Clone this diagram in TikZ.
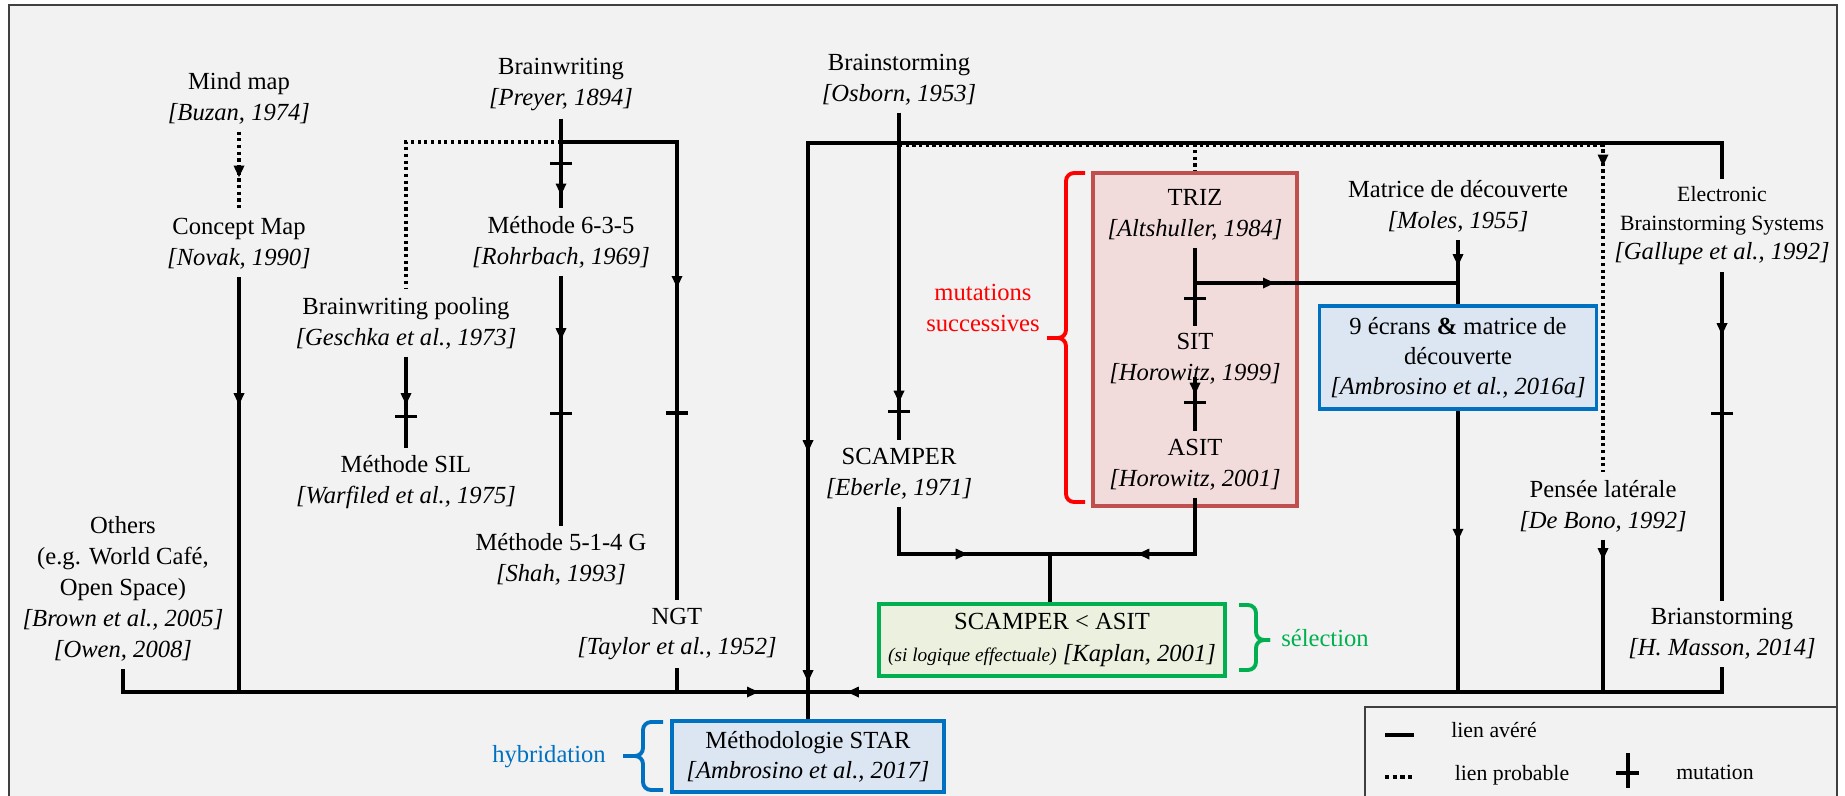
\documentclass[tikz,border=0pt]{standalone}
\usepackage{fontspec}
\setmainfont{Liberation Serif}
\usetikzlibrary{arrows.meta,decorations.markings}
\definecolor{bg}{HTML}{F2F2F2}
\definecolor{redfill}{HTML}{F2DCDB}
\definecolor{redline}{HTML}{C0504D}
\definecolor{greenfill}{HTML}{EBF1DE}
\definecolor{greenline}{HTML}{00B050}
\definecolor{bluefill}{HTML}{DCE6F2}
\definecolor{blueline}{HTML}{0070C0}
\definecolor{bracered}{HTML}{FF0000}
\definecolor{framegray}{HTML}{404040}
\begin{document}
\begin{tikzpicture}[x=0.1mm,y=-0.1mm,
  txt/.style={align=center, inner sep=2pt, font=\fontsize{7}{8.8}\selectfont},
  link/.style={line width=0.9pt},
  prob/.style={line width=0.9pt, densely dotted},
  arrowat/.style={postaction={decorate,decoration={markings,mark=at position #1 with {\arrow{Triangle[length=1.2mm,width=1mm]}}}}},
  tickat/.style={postaction={decorate,decoration={markings,mark=at position #1 with {\draw[solid,line width=0.9pt] (0,-11) -- (0,11);}}}},
  colbox/.style={line width=1pt, align=center, inner sep=0pt},
  bracepath/.style={line width=1.1pt, rounded corners=0.8mm}
]
\useasboundingbox (0,0) rectangle (1845,795);
\fill[white] (0,0) rectangle (1845,795);
\draw[framegray, fill=bg, line width=0.8pt] (9,5) rectangle (1837,815);

% coloured boxes
\node[colbox, draw=redline, fill=redfill, minimum width=20.4mm, minimum height=33.3mm] (redbox) at (1195,339.5) {};
\node[colbox, draw=blueline, fill=bluefill, minimum width=27.7mm, minimum height=10.3mm, font=\fontsize{7}{8.5}\selectfont] (ecran) at (1458,357.5) {9 écrans \textbf{\&} matrice de\\découverte\\\textit{[Ambrosino et al., 2016a]}};
\node[colbox, draw=greenline, fill=greenfill, minimum width=34.6mm, minimum height=7.2mm, font=\fontsize{7}{9.1}\selectfont] (kaplan) at (1052,640) {SCAMPER < ASIT\\{\fontsize{5.5}{6}\selectfont\textit{(si logique effectuale)}} \textit{[Kaplan, 2001]}};
\node[colbox, draw=blueline, fill=bluefill, minimum width=27.2mm, minimum height=7.1mm, font=\fontsize{7}{8.5}\selectfont] (star) at (808,756.5) {Méthodologie STAR\\\textit{[Ambrosino et al., 2017]}};

% text nodes
\node[txt] (mindmap) at (239,98) {Mind map\\\textit{[Buzan, 1974]}};
\node[txt] (concept) at (239,244) {Concept Map\\\textit{[Novak, 1990]}};
\node[txt] (bw) at (561,84.5) {Brainwriting\\\textit{[Preyer, 1894]}};
\node[txt] (m635) at (561,242) {Méthode 6-3-5\\\textit{[Rohrbach, 1969]}};
\node[txt] (bwp) at (406,323) {Brainwriting pooling\\\textit{[Geschka et al., 1973]}};
\node[txt] (sil) at (406,482.5) {Méthode SIL\\\textit{[Warfiled et al., 1975]}};
\node[txt] (m514) at (561,559.5) {Méthode 5-1-4 G\\\textit{[Shah, 1993]}};
\node[txt] (ngt) at (677,634) {NGT\\\textit{[Taylor et al., 1952]}};
\node[txt] (others) at (123,589) {Others\\(e.g. World Café,\\Open Space)\\\textit{[Brown et al., 2005]}\\\textit{[Owen, 2008]}};
\node[txt] (bs) at (899,79.5) {Brainstorming\\\textit{[Osborn, 1953]}};
\node[txt] (scamper) at (899,473.5) {SCAMPER\\\textit{[Eberle, 1971]}};
\node[txt] (triz) at (1195,214.5) {TRIZ\\\textit{[Altshuller, 1984]}};
\node[txt] (sit) at (1195,359) {SIT\\\textit{[Horowitz, 1999]}};
\node[txt] (asit) at (1195,464.5) {ASIT\\\textit{[Horowitz, 2001]}};
\node[txt] (matrice) at (1458,206.5) {Matrice de découverte\\\textit{[Moles, 1955]}};
\node[txt] (pensee) at (1603,506) {Pensée latérale\\\textit{[De Bono, 1992]}};
\node[txt, font=\fontsize{7}{8.2}\selectfont] (ebs) at (1722,225.5) {{\fontsize{6.2}{8.2}\selectfont Electronic}\\{\fontsize{6.2}{8.2}\selectfont Brainstorming Systems}\\\textit{[Gallupe et al., 1992]}};
\node[txt] (brian) at (1722,634) {Brianstorming\\\textit{[H. Masson, 2014]}};

% junction coordinates
\coordinate (hub) at (808,692);
\coordinate (bwj) at (561,142);
\coordinate (topL) at (808,143);
\coordinate (bsj) at (899,145.5);
\coordinate (trizj) at (1195,283);
\coordinate (matj) at (1458,283);
\coordinate (selj) at (1050,554);

% connectors, left part
\draw[prob, arrowat=4.6mm] (mindmap.south) -- (concept.north);
\draw[link, arrowat=12.8mm] (concept.south) -- (concept.south |- hub);
\draw[link, arrowat=65.9mm] (others.south) |- (hub);
\draw[link, tickat=4.5mm, arrowat=7.7mm] (bw.south) -- (m635.north);
\draw[prob] (bwj) -| (bwp.north);
\draw[link, arrowat=26.2mm, tickat=38.7mm] (bwj) -| (ngt.north);
\draw[link, arrowat=4.85mm, tickat=5.95mm] (bwp.south) -- (sil.north);
\draw[link, arrowat=6.45mm, tickat=13.75mm] (m635.south) -- (m514.north);
\draw[link] (ngt.south) -- (ngt.south |- hub);

% centre
\draw[link, tickat=29.9mm, arrowat=29.0mm] (bs.south) -- (scamper.north);
\draw[link, arrowat=125.9mm, arrowat=148.9mm] (ebs.north) |- (topL) -- (topL |- star.north);
\draw[prob] (bsj) -| (redbox.north);
\draw[prob, arrowat=72.5mm] (bsj) -| (pensee.north);

% red box internals
\draw[link, tickat=5.1mm] (triz.south) -- (sit.north);
\draw[link, arrowat=8.0mm] (trizj) -- (matj);
\draw[link, arrowat=1.75mm, tickat=2.55mm] ([yshift=1.5mm]sit.south) -- (asit.north);
\draw[link, arrowat=11.4mm] (asit.south) |- (selj);
\draw[link, arrowat=11.6mm] (scamper.south) |- (selj);
\draw[link] (selj) -- (selj |- kaplan.north);

% right part
\draw[link, arrowat=2.6mm] (matrice.south) -- (matrice.south |- ecran.north);
\draw[link, arrowat=13.0mm] (ecran.south) -- (ecran.south |- hub);
\draw[link, arrowat=2.05mm] (pensee.south) -- (pensee.south |- hub);
\draw[link, arrowat=6.3mm, tickat=14.1mm] (ebs.south) -- (brian.north);
\draw[link, arrowat=90.0mm] (brian.south) |- (hub);

% braces and labels
\draw[bracered, bracepath] (1085,173) -- (1066,173) -- (1066,338) -- (1047,338);
\draw[bracered, bracepath] (1085,502) -- (1066,502) -- (1066,338) -- (1047,338);
\node[txt, text=bracered] (mutlbl) at (983,307.5) {mutations\\successives};
\draw[greenline, bracepath] (1239,605) -- (1256,605) -- (1256,640) -- (1270,640);
\draw[greenline, bracepath] (1239,670) -- (1256,670) -- (1256,640) -- (1270,640);
\node[txt, text=greenline] (sellbl) at (1325,638) {sélection};
\draw[blueline, bracepath] (663,722) -- (643,722) -- (643,756) -- (623,756);
\draw[blueline, bracepath] (663,790) -- (643,790) -- (643,756) -- (623,756);
\node[txt, text=blueline] (hyblbl) at (549,757) {hybridation};

% legend
\draw[framegray, fill=bg, line width=0.8pt] (1365,707) rectangle (1837,815);
\draw[line width=1.2pt] (1385,735) -- (1414,735);
\node[txt, font=\fontsize{6.2}{7}\selectfont] (lg1) at (1494,730) {lien avéré};
\draw[line width=1.2pt, densely dotted] (1385,777) -- (1414,777);
\node[txt, font=\fontsize{6.2}{7}\selectfont] (lg2) at (1512,775) {lien probable};
\draw[line width=0.9pt] (1628,753) -- (1628,788);
\draw[line width=0.9pt] (1616,773) -- (1639,773);
\node[txt, font=\fontsize{6.2}{7}\selectfont] (lg3) at (1715,772) {mutation};
\end{tikzpicture}
\end{document}
